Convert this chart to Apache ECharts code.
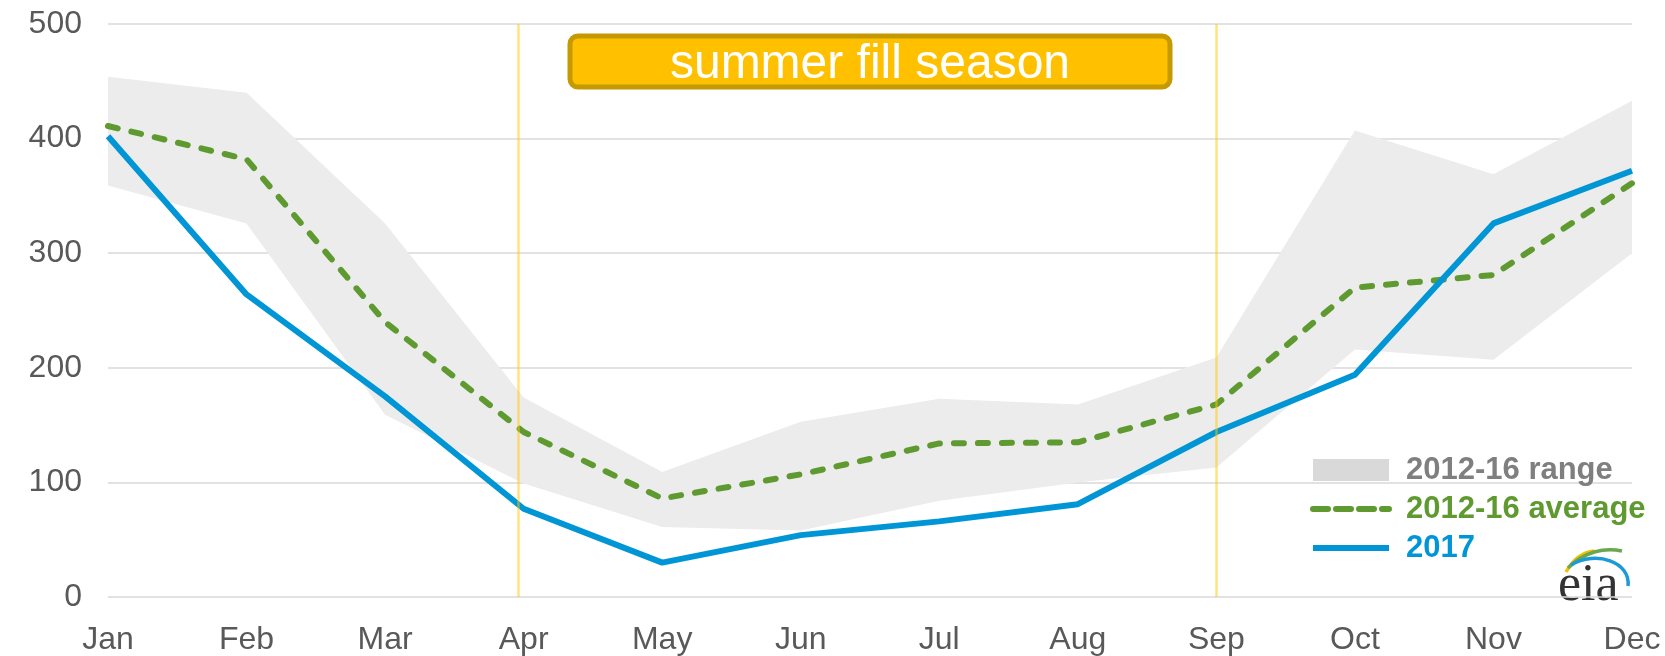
<!DOCTYPE html>
<html>
<head>
<meta charset="utf-8">
<script src="https://cdn.jsdelivr.net/npm/echarts@6/dist/echarts.min.js"></script>
<style>
html,body{margin:0;padding:0;background:#fff;}
#chart{width:1665px;height:656px;}
</style>
</head>
<body>
<div id="chart"></div>
<script>
var months = ['Jan','Feb','Mar','Apr','May','Jun','Jul','Aug','Sep','Oct','Nov','Dec'];
var rangeUpper = [454, 440, 326, 174, 109, 153, 173, 168, 209, 407, 369, 433];
var rangeLower = [359, 326, 159, 99, 61, 58, 84, 100, 113, 216, 207, 300];
var average = [411, 382, 240, 144, 86, 107, 134, 135, 168, 270, 281, 361];
var y2017 = [402, 264, 175, 77, 30, 54, 66, 81, 144, 194, 326, 372];
var seasonBounds = [2.96, 8];
var yTicks = [0, 100, 200, 300, 400, 500];

var rangeSpan = rangeUpper.map(function (v, i) { return v - rangeLower[i]; });

var FONT = "'Liberation Sans', Arial, sans-serif";
var GREEN = '#5f9a30';
var BLUE = '#0096d6';

var chart = echarts.init(document.getElementById('chart'));
chart.setOption({
  animation: false,
  backgroundColor: '#ffffff',
  grid: { left: 108, right: 33, top: 24, bottom: 55, containLabel: false },
  xAxis: [{
    type: 'category',
    data: months,
    boundaryGap: false,
    axisLine: { show: false },
    axisTick: { show: false },
    axisLabel: { fontSize: 32, color: '#595959', fontFamily: FONT, margin: 27 },
    splitLine: { show: false }
  }, {
    type: 'value',
    min: 0, max: 11,
    show: false
  }],
  yAxis: {
    type: 'value',
    min: yTicks[0], max: yTicks[yTicks.length - 1], interval: 100,
    axisLine: { show: false },
    axisTick: { show: false },
    axisLabel: { fontSize: 32, color: '#595959', fontFamily: FONT, margin: 26 },
    splitLine: { lineStyle: { color: '#d9d9d9', width: 1.5 } }
  },
  legend: {
    orient: 'vertical',
    left: 1310, top: 454,
    padding: 0,
    itemWidth: 76, itemHeight: 22, itemGap: 7,
    selectedMode: false,
    textStyle: { fontSize: 31, lineHeight: 32, fontWeight: 'bold', fontFamily: FONT, padding: [0, 0, 0, 12] },
    data: [
      { name: '2012-16 range', icon: 'rect', itemStyle: { color: '#d9d9d9' }, textStyle: { color: '#7f7f7f' } },
      { name: '2012-16 average', itemStyle: { opacity: 0 }, lineStyle: { width: 6, color: GREEN, type: [15, 8] }, textStyle: { color: GREEN } },
      { name: '2017', itemStyle: { opacity: 0 }, lineStyle: { width: 6, color: BLUE }, textStyle: { color: BLUE } }
    ]
  },
  series: [
    {
      name: 'lower', type: 'line', stack: 'range', data: rangeLower,
      symbol: 'none', lineStyle: { opacity: 0 }, silent: true, z: 1
    },
    {
      name: '2012-16 range', type: 'line', stack: 'range', data: rangeSpan,
      symbol: 'none', lineStyle: { opacity: 0, width: 0 },
      itemStyle: { color: '#d9d9d9' },
      areaStyle: { color: '#ececec', opacity: 1 }, silent: true, z: 1
    },
    {
      name: '2012-16 average', type: 'line', data: average, symbol: 'none',
      itemStyle: { color: GREEN },
      lineStyle: { color: GREEN, width: 6, type: [10, 14], cap: 'round' }, z: 3
    },
    {
      name: '2017', type: 'line', data: y2017, symbol: 'none',
      itemStyle: { color: BLUE },
      lineStyle: { color: BLUE, width: 6 }, z: 4
    },
    {
      name: 'season', type: 'line', xAxisIndex: 1, data: [], symbol: 'none', z: 5,
      markLine: {
        silent: true, symbol: 'none', label: { show: false },
        lineStyle: { color: 'rgba(255,200,0,0.5)', width: 2.5, type: 'solid' },
        data: seasonBounds.map(function (v) { return { xAxis: v }; })
      }
    }
  ],
  graphic: [
    {
      type: 'group', x: 570, y: 36,
      children: [
        { type: 'rect', shape: { x: 0, y: 0, width: 600, height: 51, r: 8 },
          style: { fill: '#ffc000', stroke: '#c49a00', lineWidth: 5 } },
        { type: 'text', x: 300, y: 29,
          style: { text: 'summer fill season', fill: '#ffffff', font: "48px 'Liberation Sans', Arial, sans-serif",
                   align: 'center', verticalAlign: 'middle' } }
      ]
    },
    {
      type: 'group', x: 1556, y: 542,
      children: [
        { type: 'bezierCurve', shape: { x1: 10, y1: 30, cpx1: 18, cpy1: 16, x2: 38, y2: 9, cpx2: 28, cpy2: 10 },
          style: { stroke: '#f2c200', lineWidth: 3.5, fill: null } },
        { type: 'bezierCurve', shape: { x1: 12, y1: 26, cpx1: 28, cpy1: 10, x2: 66, y2: 9, cpx2: 48, cpy2: 5 },
          style: { stroke: '#6aa84f', lineWidth: 3.5, fill: null } },
        { type: 'bezierCurve', shape: { x1: 15, y1: 23, cpx1: 40, cpy1: 8, x2: 72, y2: 44, cpx2: 75, cpy2: 20 },
          style: { stroke: '#1a9ad6', lineWidth: 3.5, fill: null } },
        { type: 'text', x: 2, y: 44,
          style: { text: 'eia', fill: '#333333', font: "52px 'Liberation Serif', 'DejaVu Serif', serif",
                   align: 'left', verticalAlign: 'middle' } }
      ]
    }
  ]
});
</script>
</body>
</html>
